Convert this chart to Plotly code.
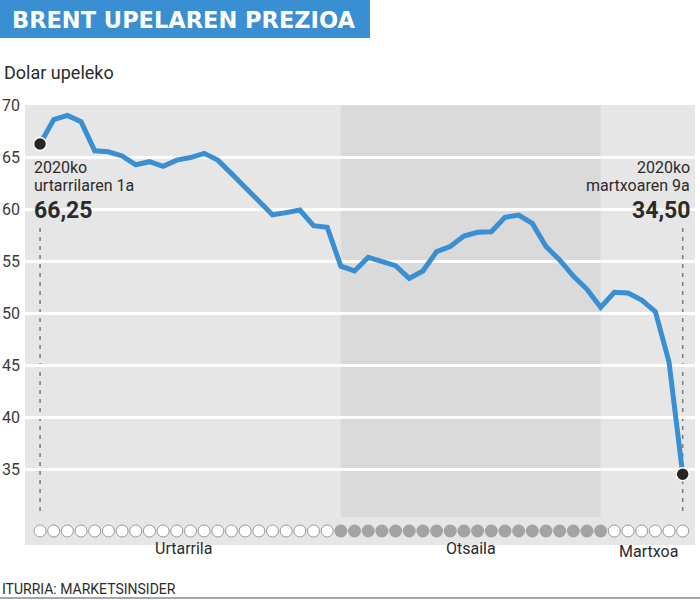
import plotly.graph_objects as go

# ---- data -------------------------------------------------------------
month_names = ["Urtarrila", "Otsaila", "Martxoa"]
month_counts = [22, 20, 6]  # trading days shown per month

prices = [
    # Urtarrila
    66.25, 68.6, 69.0, 68.4, 65.6, 65.5, 65.1, 64.25, 64.55, 64.1, 64.7,
    64.95, 65.35, 64.7, 63.4, 62.1, 60.8, 59.45, 59.65, 59.9, 58.4, 58.25,
    # Otsaila
    54.5, 54.05, 55.35, 55.0, 54.55, 53.33, 54.04, 55.9, 56.4, 57.4, 57.76,
    57.82, 59.2, 59.42, 58.62, 56.4, 55.1, 53.56, 52.28, 50.55,
    # Martxoa
    51.99, 51.93, 51.25, 50.13, 45.3, 34.5,
]
y_ticks = [35, 40, 45, 50, 55, 60, 65, 70]

first_label = ["2020ko", "urtarrilaren 1a", "66,25"]
last_label = ["2020ko", "martxoaren 9a", "34,50"]

# ---- helpers ------------------------------------------------------------
W, H = 700, 600
def px(x):
    return x / W
def py(y):
    return 1 - y / H

x = list(range(len(prices)))
starts = []
s = 0
for c in month_counts:
    starts.append(s)
    s += c
month_idx = []
for m, c in enumerate(month_counts):
    month_idx += [m] * c

BLUE = "#3a8fd3"
TXT = "#2b2b2b"
FONT = "Roboto"

fig = go.Figure()

# price line
fig.add_trace(go.Scatter(
    x=x, y=prices, mode="lines",
    line=dict(color=BLUE, width=5, shape="linear"),
    hoverinfo="skip", xaxis="x", yaxis="y",
))
# end points
fig.add_trace(go.Scatter(
    x=[x[0], x[-1]], y=[prices[0], prices[-1]], mode="markers",
    marker=dict(size=13, color="#2a2521", line=dict(color="white", width=1.5)),
    hoverinfo="skip", xaxis="x", yaxis="y",
))

# day circles strip
open_x = [i for i in x if month_idx[i] != 1]
fill_x = [i for i in x if month_idx[i] == 1]
fig.add_trace(go.Scatter(
    x=open_x, y=[0.5] * len(open_x), mode="markers",
    marker=dict(size=12, color="white", line=dict(color="#9a9a9a", width=1)),
    hoverinfo="skip", xaxis="x", yaxis="y2", cliponaxis=False,
))
fig.add_trace(go.Scatter(
    x=fill_x, y=[0.5] * len(fill_x), mode="markers",
    marker=dict(size=13, color="#a3a3a3", line=dict(color="#a3a3a3", width=0)),
    hoverinfo="skip", xaxis="x", yaxis="y2", cliponaxis=False,
))

shapes = [
    # February band
    dict(type="rect", xref="x", yref="y domain",
         x0=starts[1], x1=starts[1] + month_counts[1] - 1, y0=0, y1=1,
         fillcolor="#dadada", line=dict(width=0), layer="below"),
    # dashed guides
    dict(type="line", xref="x", yref="paper", x0=x[0], x1=x[0],
         y0=py(228), y1=py(515), line=dict(color="#7a7a7a", width=1.5, dash="4px,5px"),
         layer="between"),
    dict(type="line", xref="x", yref="paper", x0=x[-1], x1=x[-1],
         y0=py(228), y1=py(512), line=dict(color="#7a7a7a", width=1.5, dash="4px,5px"),
         layer="between"),
    # title box
    dict(type="rect", xref="paper", yref="paper", x0=0, x1=px(370), y0=py(38), y1=1,
         fillcolor="#3a8fd3", line=dict(width=0)),
    # source rule
    dict(type="line", xref="paper", yref="paper", x0=0, x1=1, y0=py(598), y1=py(598),
         line=dict(color="#8a8a8a", width=1.5)),
]

annotations = [
    dict(text="<b>BRENT UPELAREN PREZIOA</b>", xref="paper", yref="paper", x=px(10), y=py(20),
         xanchor="left", yanchor="middle", showarrow=False,
         font=dict(family="DejaVu Sans", size=22.5, color="white")),
    dict(text="Dolar upeleko", xref="paper", yref="paper", x=px(2), y=py(72),
         xanchor="left", yanchor="middle", showarrow=False,
         font=dict(family=FONT, size=18, color=TXT)),
    dict(text="ITURRIA: MARKETSINSIDER", xref="paper", yref="paper", x=px(0), y=py(589),
         xanchor="left", yanchor="middle", showarrow=False,
         font=dict(family=FONT, size=14, color=TXT)),
]
# first / last labels
for txt, yy, sz, bold in zip(first_label, [167, 185, 210], [16, 16, 23], [False, False, True]):
    annotations.append(dict(text=f"<b>{txt}</b>" if bold else txt, xref="paper", yref="paper",
                            x=px(32), y=py(yy), xanchor="left", yanchor="middle", showarrow=False,
                            font=dict(family=FONT, size=sz, color=TXT)))
for txt, yy, sz, bold in zip(last_label, [167, 185, 210], [16, 16, 23], [False, False, True]):
    annotations.append(dict(text=f"<b>{txt}</b>" if bold else txt, xref="paper", yref="paper",
                            x=px(692), y=py(yy), xanchor="right", yanchor="middle", showarrow=False,
                            font=dict(family=FONT, size=sz, color=TXT)))
# month labels
month_y = [548, 548, 551]
for m, name in enumerate(month_names):
    center = starts[m] + (month_counts[m] - 1) / 2
    annotations.append(dict(text=name, xref="x", yref="paper", x=center, y=py(month_y[m]),
                            xanchor="center", yanchor="middle", showarrow=False,
                            font=dict(family=FONT, size=16, color=TXT)))

fig.update_layout(
    width=W, height=H, template="none",
    margin=dict(l=0, r=0, t=0, b=0),
    paper_bgcolor="white", plot_bgcolor="#e6e6e6",
    showlegend=False,
    xaxis=dict(domain=[px(25), px(695)], range=[-1.1, 47.9], showgrid=False,
               zeroline=False, showticklabels=False, showline=False, ticks="",
               fixedrange=True),
    yaxis=dict(domain=[py(519), py(105)], range=[30.2, 70.0], tickvals=y_ticks,
               showgrid=True, gridcolor="white", gridwidth=3, zeroline=False,
               showline=False, ticks="", tickfont=dict(family=FONT, size=16, color="#3a3a3a"),
               automargin=False, ticklabelstandoff=4, fixedrange=True),
    yaxis2=dict(domain=[py(545), py(517)], range=[0, 1], showgrid=False, zeroline=False,
                showticklabels=False, showline=False, anchor="x", fixedrange=True),
    shapes=shapes,
    annotations=annotations,
)

fig.write_html("out.html", config={"displayModeBar": False, "staticPlot": True},
               post_script="document.body.style.margin='0';document.body.style.overflow='hidden';")
